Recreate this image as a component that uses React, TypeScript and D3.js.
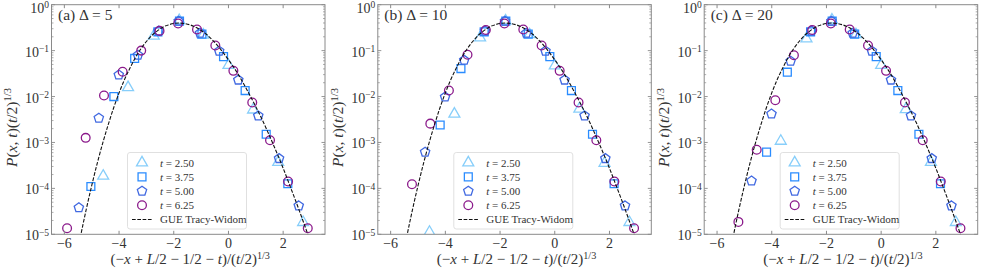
import { useEffect, useRef } from "react";
import * as d3 from "d3";

const FIG_W = 981;
const FIG_H = 273;

const PANEL_TAGS = ["(a)", "(b)", "(c)"];
const DELTAS = [5, 10, 20];
const X_TICKS = [-6, -4, -2, 0, 2];
const Y_EXPONENTS = [0, -1, -2, -3, -4, -5];
const T_LABELS = ["2.50", "3.75", "5.00", "6.25"];

// t = 2.50 (triangles)
const S_T1 = [-4.58, -3.67, -2.73, -1.8, -0.92, 0.0, 0.9, 1.82, 2.73];
const P_T1_A = [1.86e-4, 1.58e-2, 0.209, 0.457, 0.219, 0.0479, 5.13e-3, 3.72e-4, 1.82e-5];
const P_T1_B = [1.12e-5, 4.17e-3, 0.191, 0.447, 0.224, 0.0468, 5.37e-3, 3.55e-4, 1.82e-5];
const P_T1_C = [null, 1.07e-3, 0.182, 0.468, 0.224, 0.0479, 5.25e-3, 3.72e-4, 1.82e-5];

// t = 3.75 (squares)
const S_T2 = [-5.03, -4.19, -3.43, -2.58, -1.79, -0.97, -0.18, 0.61, 1.38, 2.17];
const P_T2_A = [1.1e-4, 1.0e-2, 0.0676, 0.257, 0.437, 0.229, 0.0741, 0.0135, 1.51e-3, 1.26e-4];
const P_T2_B = [null, 2.4e-3, 0.0407, 0.257, 0.437, 0.229, 0.0741, 0.0135, 1.51e-3, 1.26e-4];
const P_T2_C = [null, 6.17e-4, 0.0339, 0.257, 0.437, 0.229, 0.0741, 0.0135, 1.51e-3, 1.26e-4];

// t = 5.00 (pentagons)
const S_T3 = [-5.47, -4.74, -4.01, -3.31, -2.55, -1.82, -1.04, -0.34, 0.36, 1.09, 1.85, 2.57];
const P_T3_A = [3.8e-5, 3.39e-3, 0.0295, 0.0794, 0.269, 0.437, 0.24, 0.0977, 0.0229, 3.8e-3, 4.47e-4, 4.17e-5];
const P_T3_B = [null, 6.17e-4, 9.77e-3, 0.0617, 0.269, 0.437, 0.24, 0.0977, 0.0229, 3.8e-3, 4.47e-4, 4.17e-5];
const P_T3_C = [null, 1.45e-4, 4.17e-3, 0.0589, 0.269, 0.437, 0.24, 0.0977, 0.0229, 3.8e-3, 4.47e-4, 4.17e-5];

// t = 6.25 (circles)
const S_T4 = [-5.9, -5.22, -4.55, -3.87, -3.19, -2.52, -1.84, -1.15, -0.48, 0.18, 0.87, 1.52, 2.18, 2.9];
const P_T4_A = [1.35e-5, 1.26e-3, 0.0105, 0.0347, 0.1, 0.269, 0.389, 0.288, 0.129, 0.0363, 7.41e-3, 1.12e-3, 1.41e-4, 1.35e-5];
const P_T4_B = [null, 1.23e-4, 2.57e-3, 0.0135, 0.0813, 0.282, 0.389, 0.288, 0.129, 0.0363, 7.41e-3, 1.12e-3, 1.41e-4, 1.35e-5];
const P_T4_C = [null, 1.86e-5, 6.92e-4, 8.32e-3, 0.0794, 0.282, 0.389, 0.288, 0.129, 0.0363, 7.41e-3, 1.12e-3, 1.41e-4, 1.35e-5];

// GUE Tracy-Widom density
const TW_S = [
  -5.6, -5.4, -5.2, -5.0, -4.8, -4.6, -4.4, -4.2, -4.0, -3.8, -3.6, -3.4, -3.2, -3.0, -2.8,
  -2.6, -2.4, -2.2, -2.0, -1.8, -1.6, -1.4, -1.2, -1.0, -0.8, -0.6, -0.4, -0.2, 0.0, 0.2,
  0.4, 0.6, 0.8, 1.0, 1.2, 1.4, 1.6, 1.8, 2.0, 2.2, 2.4, 2.6, 2.8, 3.0, 3.2,
];
const TW_P = [
  2.24e-6, 9.55e-6, 3.47e-5, 1.15e-4, 3.47e-4, 9.55e-4, 2.4e-3, 5.62e-3, 1.2e-2, 2.34e-2,
  4.17e-2, 7.08e-2, 0.11, 0.158, 0.214, 0.269, 0.324, 0.363, 0.389, 0.398, 0.389, 0.363,
  0.324, 0.275, 0.224, 0.174, 0.129, 0.0912, 0.0631, 0.0427, 0.0275, 0.017, 0.0102,
  6.03e-3, 3.47e-3, 1.91e-3, 1.02e-3, 5.37e-4, 2.75e-4, 1.35e-4, 6.61e-5, 3.16e-5,
  1.48e-5, 6.76e-6, 3.02e-6,
];

const PANEL_DATA = [
  [P_T1_A, P_T2_A, P_T3_A, P_T4_A],
  [P_T1_B, P_T2_B, P_T3_B, P_T4_B],
  [P_T1_C, P_T2_C, P_T3_C, P_T4_C],
];
const SERIES_S = [S_T1, S_T2, S_T3, S_T4];
const SERIES_COLORS = ["#87cefa", "#2a8cff", "#4169e1", "#8b1a8b"];
const SERIES_SHAPES = ["tri", "sq", "pent", "circ"];

const FONT = "Liberation Serif, serif";
const TEXT_COLOR = "#333";
const SPINE_COLOR = "#8a8a8a";

type Seg = { t: string; i?: boolean; sup?: boolean };

function mathText(sel: d3.Selection<SVGTextElement, unknown, null, undefined>, segs: Seg[], size: number) {
  segs.forEach((s) => {
    const ts = sel.append("tspan").text(s.t);
    if (s.i) ts.style("font-style", "italic");
    if (s.sup) ts.style("font-size", `${size * 0.68}px`).attr("dy", -size * 0.34);
  });
}

function markerPath(shape: string) {
  if (shape === "tri") return d3.symbol(d3.symbolTriangle, 52)();
  if (shape === "sq") return d3.symbol(d3.symbolSquare, 62)();
  if (shape === "circ") return d3.symbol(d3.symbolCircle, 60)();
  // pentagon
  const r = 4.9;
  const pts = d3.range(5).map((k) => {
    const a = -Math.PI / 2 + (k * 2 * Math.PI) / 5;
    return [r * Math.cos(a), r * Math.sin(a)];
  });
  return "M" + pts.map((p) => p.join(",")).join("L") + "Z";
}

export default function App() {
  const svgRef = useRef<SVGSVGElement>(null);

  useEffect(() => {
    if (!svgRef.current) return;
    const svg = d3.select(svgRef.current);
    svg.selectAll("*").remove();

    const panelW = 273.5;
    const top = 4.7;
    const bottom = 234.3;
    const lefts = [51.5, 377.8, 704.2];

    const y = d3.scaleLog().domain([1e-5, 1]).range([bottom, top]);

    const txt = (sel: d3.Selection<any, unknown, null, undefined>, size: number) =>
      sel
        .append("text")
        .style("font-family", FONT)
        .style("font-size", `${size}px`)
        .attr("fill", TEXT_COLOR);

    lefts.forEach((left, pi) => {
      const x = d3.scaleLinear().domain([-6.47, 3.53]).range([left, left + panelW]);
      const g = svg.append("g");

      const clipId = `clip-${pi}`;
      svg
        .append("defs")
        .append("clipPath")
        .attr("id", clipId)
        .append("rect")
        .attr("x", left)
        .attr("y", top)
        .attr("width", panelW)
        .attr("height", bottom - top);

      const plot = g.append("g").attr("clip-path", `url(#${clipId})`);

      // markers
      SERIES_S.forEach((sArr, si) => {
        const vals = PANEL_DATA[pi][si];
        const pts = sArr
          .map((s, k) => ({ s, p: vals[k] }))
          .filter((d) => d.p !== null) as { s: number; p: number }[];
        plot
          .append("g")
          .selectAll("path")
          .data(pts)
          .enter()
          .append("path")
          .attr("d", markerPath(SERIES_SHAPES[si]))
          .attr("transform", (d) => `translate(${x(d.s)},${y(d.p)})`)
          .attr("fill", "none")
          .attr("stroke", SERIES_COLORS[si])
          .attr("stroke-width", 1.3);
      });

      // Tracy-Widom curve
      const line = d3
        .line<number>()
        .x((_d, k) => x(TW_S[k]))
        .y((d) => y(d))
        .curve(d3.curveMonotoneX);
      plot
        .append("path")
        .attr("d", line(TW_P))
        .attr("fill", "none")
        .attr("stroke", "#111")
        .attr("stroke-width", 1.1)
        .attr("stroke-dasharray", "3.7,1.6");

      // spines
      g.append("rect")
        .attr("x", left)
        .attr("y", top)
        .attr("width", panelW)
        .attr("height", bottom - top)
        .attr("fill", "none")
        .attr("stroke", SPINE_COLOR)
        .attr("stroke-width", 1);

      // x ticks
      X_TICKS.forEach((t) => {
        const xp = x(t);
        g.append("line").attr("x1", xp).attr("x2", xp).attr("y1", bottom).attr("y2", bottom - 3.5).attr("stroke", SPINE_COLOR);
        g.append("line").attr("x1", xp).attr("x2", xp).attr("y1", top).attr("y2", top + 3.5).attr("stroke", SPINE_COLOR);
        txt(g, 14)
          .attr("x", xp)
          .attr("y", bottom + 14)
          .attr("text-anchor", "middle")
          .text(t < 0 ? `\u2212${-t}` : `${t}`);
      });

      // y ticks
      y.ticks().forEach((v) => {
        const major = Math.abs(Math.log10(v) - Math.round(Math.log10(v))) < 1e-6;
        const len = major ? 3.5 : 2;
        const yp = y(v);
        g.append("line").attr("x1", left).attr("x2", left + len).attr("y1", yp).attr("y2", yp).attr("stroke", SPINE_COLOR).attr("stroke-width", major ? 0.9 : 0.7);
        g.append("line").attr("x1", left + panelW).attr("x2", left + panelW - len).attr("y1", yp).attr("y2", yp).attr("stroke", SPINE_COLOR).attr("stroke-width", major ? 0.9 : 0.7);
      });
      Y_EXPONENTS.forEach((e) => {
        const yp = y(Math.pow(10, e));
        const tx = txt(g, 14)
          .attr("x", left - 2.5)
          .attr("y", yp + (e === 0 ? 8 : 6))
          .attr("text-anchor", "end");
        mathText(tx, [{ t: "10" }, { t: e < 0 ? `\u2212${-e}` : `${e}`, sup: true }], 14);
      });

      // panel tag
      const tag = txt(g, 15.5).attr("x", left + 6.5).attr("y", top + 15);
      mathText(tag, [{ t: `${PANEL_TAGS[pi]} \u0394 = ${DELTAS[pi]}` }], 15.5);

      // x label
      const xl = txt(g, 15)
        .attr("x", left + panelW / 2 + 2)
        .attr("y", 264)
        .attr("text-anchor", "middle");
      mathText(
        xl,
        [
          { t: "(\u2212" },
          { t: "x", i: true },
          { t: " + " },
          { t: "L", i: true },
          { t: "/2 \u2212 1/2 \u2212 " },
          { t: "t", i: true },
          { t: ")/(" },
          { t: "t", i: true },
          { t: "/2)" },
          { t: "1/3", sup: true },
        ],
        15
      );

      // y label
      const yl = txt(g, 15.5)
        .attr("transform", `translate(${left - 35},${(top + bottom) / 2 + 8}) rotate(-90)`)
        .attr("text-anchor", "middle");
      mathText(
        yl,
        [
          { t: "P", i: true },
          { t: "(" },
          { t: "x", i: true },
          { t: ", " },
          { t: "t", i: true },
          { t: ")(" },
          { t: "t", i: true },
          { t: "/2)" },
          { t: "1/3", sup: true },
        ],
        15.5
      );

      // legend
      const lx = left + 76;
      const ly = 152.5;
      const lg = g.append("g").attr("transform", `translate(${lx},${ly})`);
      lg.append("rect")
        .attr("width", 119)
        .attr("height", 76.5)
        .attr("rx", 2.5)
        .attr("fill", "rgba(255,255,255,0.85)")
        .attr("stroke", "#dcdcdc")
        .attr("stroke-width", 0.9);
      const rowY = (k: number) => 10.2 + k * 14.2;
      T_LABELS.forEach((lab, k) => {
        lg.append("path")
          .attr("d", markerPath(SERIES_SHAPES[k]))
          .attr("transform", `translate(14.5,${rowY(k)})`)
          .attr("fill", "none")
          .attr("stroke", SERIES_COLORS[k])
          .attr("stroke-width", 1.3);
        const lt = txt(lg, 11).attr("x", 32.5).attr("y", rowY(k) + 3.8);
        mathText(lt, [{ t: "t", i: true }, { t: ` = ${lab}` }], 11);
      });
      lg.append("line")
        .attr("x1", 4.5)
        .attr("x2", 24.5)
        .attr("y1", rowY(4))
        .attr("y2", rowY(4))
        .attr("stroke", "#111")
        .attr("stroke-width", 1.1)
        .attr("stroke-dasharray", "3.7,1.6");
      txt(lg, 11)
        .attr("x", 32.5)
        .attr("y", rowY(4) + 3.8)
        .text("GUE Tracy-Widom");
    });
  }, []);

  return (
    <svg
      ref={svgRef}
      width={FIG_W}
      height={FIG_H}
      style={{ position: "absolute", left: 0, top: 0, background: "#fff", display: "block" }}
    />
  );
}
